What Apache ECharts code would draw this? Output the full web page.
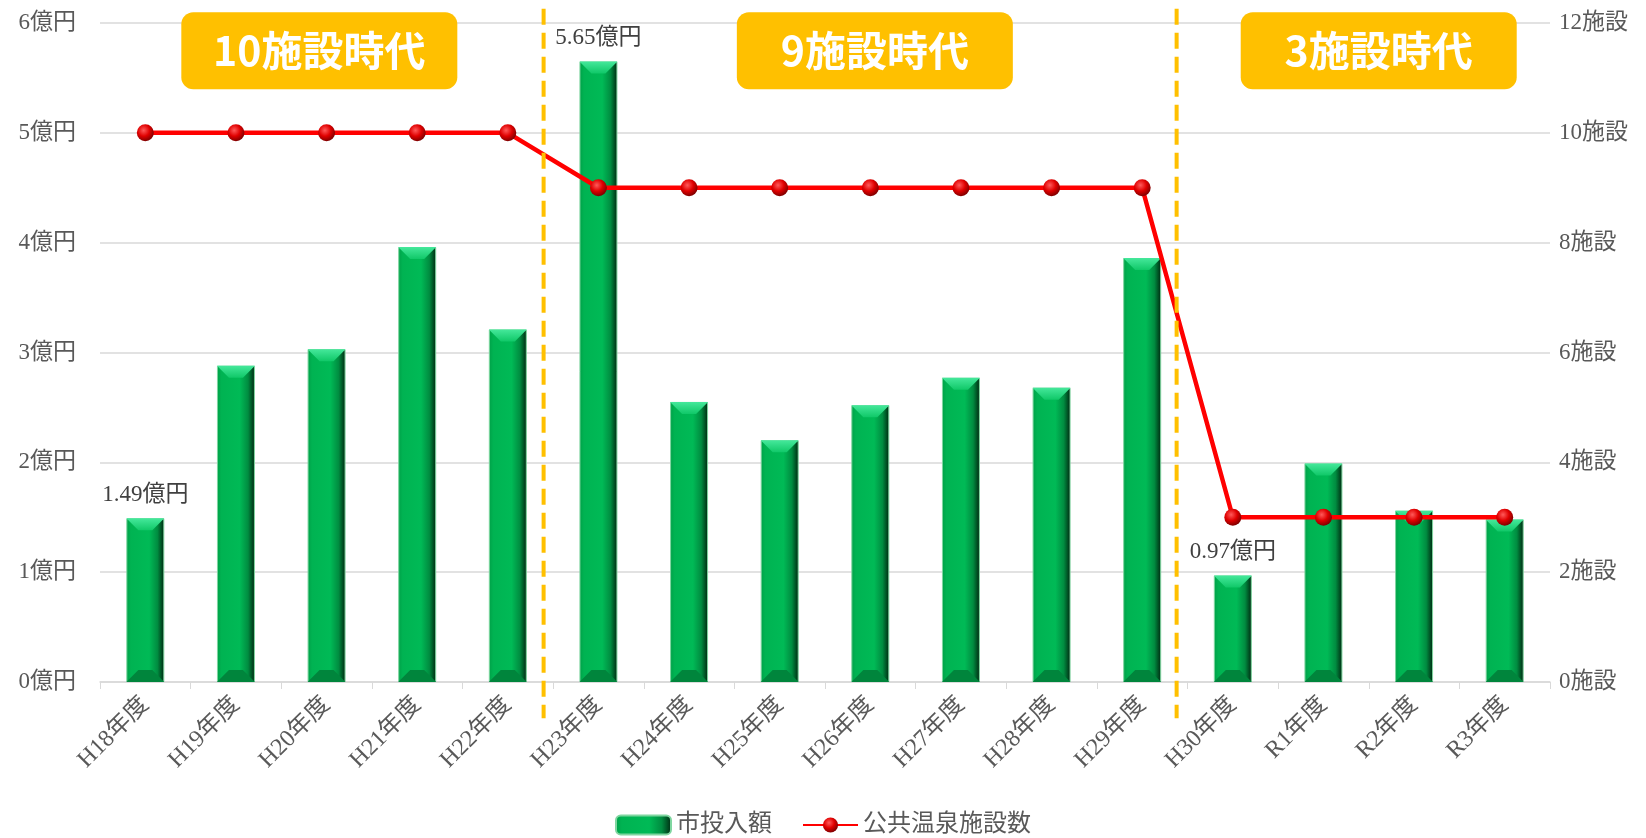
<!DOCTYPE html>
<html>
<head>
<meta charset="utf-8">
<script src="https://cdn.jsdelivr.net/npm/echarts@6/dist/echarts.min.js"></script>
<style>
  html, body { margin: 0; padding: 0; background: #fff; }
  #chart { width: 1646px; height: 838px; }
</style>
</head>
<body>
<div id="chart"></div>
<script>
// 年度
const years = ['H18年度', 'H19年度', 'H20年度', 'H21年度', 'H22年度', 'H23年度', 'H24年度', 'H25年度',
  'H26年度', 'H27年度', 'H28年度', 'H29年度', 'H30年度', 'R1年度', 'R2年度', 'R3年度'];
// 市投入額 (億円)
const investment = [1.49, 2.88, 3.03, 3.96, 3.21, 5.65, 2.55, 2.20, 2.52, 2.77, 2.68, 3.86, 0.97, 1.99, 1.56, 1.48];
// 公共温泉施設数
const facilities = [10, 10, 10, 10, 10, 9, 9, 9, 9, 9, 9, 9, 3, 3, 3, 3];
// 値ラベルを出す年度
const labeledIdx = [0, 5, 12];
// 時代区分
const periodNames = ['10施設時代', '9施設時代', '3施設時代'];
const periodCenters = [2.42, 8.55, 14.11];
const periodBorders = [4.895, 11.88];

const serif = "'Liberation Serif', 'DejaVu Serif', 'Noto Sans CJK JP', serif";
const textGray = '#595959';
const BAR_W = 38;
const BEVEL = 12;

const chart = echarts.init(document.getElementById('chart'));

const barColor = new echarts.graphic.LinearGradient(0, 0, 1, 0, [
  { offset: 0, color: '#00a048' },
  { offset: 0.12, color: '#00b352' },
  { offset: 0.6, color: '#00ba56' },
  { offset: 0.82, color: '#008c40' },
  { offset: 1, color: '#00250f' }
]);

const markerColor = new echarts.graphic.RadialGradient(0.4, 0.35, 0.7, [
  { offset: 0, color: '#ff5a5a' },
  { offset: 0.5, color: '#e00000' },
  { offset: 1, color: '#700000' }
]);

// 棒の上下の面取り (飾り)
function renderBevel(params, api) {
  const top = api.coord([api.value(0), api.value(1)]);
  const base = api.coord([api.value(0), 0]);
  const l = top[0] - BAR_W / 2, r = top[0] + BAR_W / 2;
  const b = Math.min(BEVEL, (base[1] - top[1]) / 2);
  return {
    type: 'group',
    children: [
      {
        type: 'polygon',
        shape: { points: [[l, top[1]], [r, top[1]], [r - b, top[1] + b], [l + b, top[1] + b]] },
        style: {
          fill: new echarts.graphic.LinearGradient(0, 0, 0, 1, [
            { offset: 0, color: '#45e89b' },
            { offset: 1, color: '#10c868' }
          ])
        }
      },
      {
        type: 'polygon',
        shape: { points: [[l, base[1]], [r, base[1]], [r - b, base[1] - b], [l + b, base[1] - b]] },
        style: { fill: '#00853c' }
      }
    ]
  };
}

const borderSeries = periodBorders.map(x => ({
  type: 'line',
  xAxisIndex: 1,
  yAxisIndex: 0,
  data: [[x, 6.13], [x, -0.33]],
  symbol: 'none',
  clip: false,
  silent: true,
  z: 5,
  lineStyle: { color: '#ffc000', width: 4, type: [16, 8] }
}));

const option = {
  animation: false,
  grid: { left: 100, right: 96, top: 23, bottom: 156 },
  legend: {
    data: ['市投入額', '公共温泉施設数'],
    top: 808,
    left: 'center',
    itemWidth: 55,
    itemHeight: 19,
    itemGap: 30,
    textStyle: { fontFamily: serif, fontSize: 24, color: textGray }
  },
  xAxis: [
    {
      type: 'category',
      data: years,
      axisLine: { lineStyle: { color: '#d9d9d9', width: 1.5 } },
      axisTick: { show: true, length: 7, lineStyle: { color: '#d9d9d9' } },
      axisLabel: { rotate: 45, margin: 19, fontFamily: serif, fontSize: 24, color: textGray, interval: 0 }
    },
    { type: 'value', min: 0, max: 16, show: false }
  ],
  yAxis: [
    {
      type: 'value', min: 0, max: 6, interval: 1,
      axisLine: { show: false }, axisTick: { show: false },
      axisLabel: { formatter: '{value}億円', margin: 24, fontFamily: serif, fontSize: 23, color: textGray },
      splitLine: { lineStyle: { color: '#d9d9d9', width: 1.5 } }
    },
    {
      type: 'value', min: 0, max: 12, interval: 2,
      axisLine: { show: false }, axisTick: { show: false },
      axisLabel: { formatter: '{value}施設', margin: 9, fontFamily: serif, fontSize: 23, color: textGray },
      splitLine: { show: false }
    }
  ],
  series: [
    {
      name: '市投入額',
      type: 'bar',
      barWidth: BAR_W,
      itemStyle: { color: barColor, borderColor: '#7fd6a0', borderWidth: 1 },
      data: investment.map((v, i) => ({
        value: v,
        label: labeledIdx.includes(i) ? {
          show: true, position: 'top', distance: 12,
          formatter: p => p.value.toFixed(2) + '億円',
          fontFamily: serif, fontSize: 23, color: '#404040'
        } : { show: false }
      })),
      z: 2
    },
    {
      type: 'custom',
      silent: true,
      renderItem: renderBevel,
      data: investment.map((v, i) => [i, v]),
      z: 3
    },
    {
      name: '公共温泉施設数',
      type: 'line',
      yAxisIndex: 1,
      data: facilities,
      symbol: 'circle',
      symbolSize: 17,
      lineStyle: { color: '#ff0000', width: 4.5 },
      itemStyle: { color: markerColor, borderWidth: 0 },
      z: 4
    },
    ...borderSeries,
    {
      type: 'scatter',
      xAxisIndex: 1,
      yAxisIndex: 0,
      silent: true,
      clip: false,
      symbol: 'path://M12,0H264A12,12,0,0,1,276,12V65A12,12,0,0,1,264,77H12A12,12,0,0,1,0,65V12A12,12,0,0,1,12,0Z',
      symbolSize: [276, 77],
      symbolKeepAspect: false,
      itemStyle: { color: '#ffc000', opacity: 1 },
      data: periodCenters.map((x, i) => ({ value: [x, 5.747], name: periodNames[i] })),
      label: {
        show: true, position: 'inside', formatter: p => p.name,
        fontFamily: "'Noto Sans CJK JP', sans-serif", fontWeight: 'bold', fontSize: 41, color: '#fff'
      },
      z: 6
    }
  ]
};

chart.setOption(option);
</script>
</body>
</html>
